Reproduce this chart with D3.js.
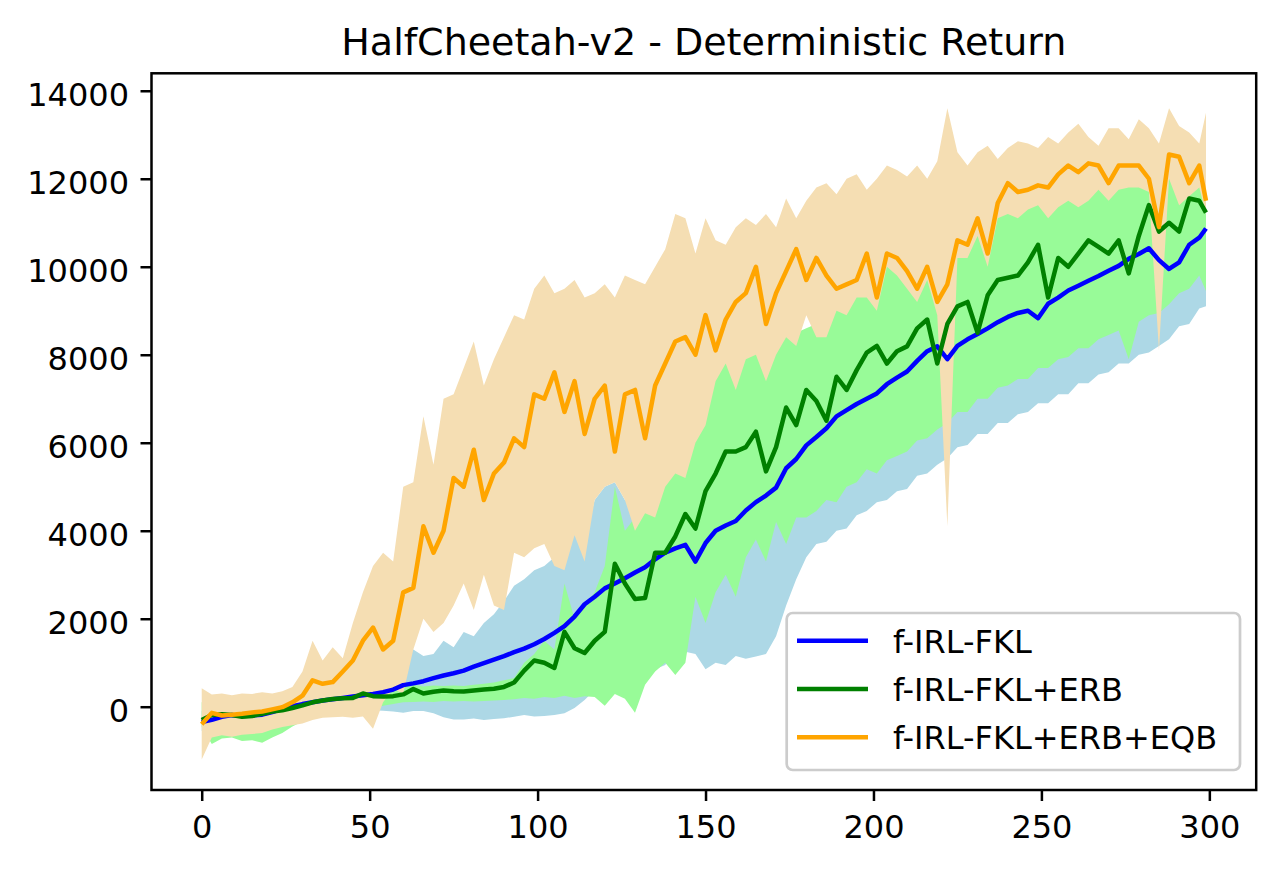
<!DOCTYPE html>
<html>
<head>
<meta charset="utf-8">
<title>HalfCheetah-v2 - Deterministic Return</title>
<script src="https://d3js.org/d3.v7.min.js"></script>
<style>
  html, body { margin: 0; padding: 0; background: #fff; }
  svg { display: block; font-family: "DejaVu Sans", sans-serif; }
</style>
</head>
<body>
<div id="chart"></div>
<script>
// HalfCheetah-v2 deterministic return, mean +/- band per method
// values every 3 iterations (plus the last one)

const steps = d3.range(0, 300, 3).concat([299]);

// f-IRL-FKL
const fklMean = [
  -350, -300, -230, -190, -210, -200, -180, -120, -50, 10,
  60, 100, 140, 170, 200, 230, 260, 290, 330, 390,
  490, 530, 580, 650, 710, 760, 820, 910, 990, 1070,
  1150, 1240, 1320, 1420, 1540, 1680, 1830, 2050, 2330, 2500,
  2690, 2800, 2920, 3050, 3170, 3350, 3500, 3600, 3680, 3300,
  3720, 4000, 4120, 4220, 4460, 4650, 4800, 4980, 5420, 5630,
  5940, 6130, 6330, 6600, 6740, 6880, 7000, 7120, 7330, 7480,
  7620, 7860, 8080, 8190, 7900, 8200, 8350, 8470, 8600, 8740,
  8860, 8950, 9000, 8830, 9160, 9300, 9460, 9570, 9680, 9790,
  9910, 10020, 10180, 10290, 10420, 10150, 9950, 10100, 10500, 10660,
  10870
];
const fklHigh = [
  -100, 0, 50, 20, 0, 30, 60, 100, 130, 170,
  200, 220, 230, 250, 270, 280, 300, 320, 380, 550,
  900, 1300, 1150, 1200, 1500, 1350, 1700, 1600, 1900, 2100,
  2400, 2750, 2900, 3100, 3200, 3400, 3650, 3950, 3800, 4700,
  5000, 5100, 4700, 4600, 4700, 4900, 5100, 5300, 5400, 5000,
  5500, 5700, 5900, 6000, 6200, 6400, 6500, 6700, 7000, 7200,
  7500, 7700, 7900, 8100, 8200, 8300, 8500, 8600, 8800, 8900,
  9000, 9200, 9400, 9500, 9300, 9600, 9700, 9800, 9900, 10000,
  10100, 10200, 10300, 10200, 10400, 10500, 10600, 10700, 10800, 10900,
  10900, 11000, 11100, 11200, 11300, 11200, 10900, 10850, 11300, 11450,
  11600
];
const fklLow = [
  -550, -620, -600, -580, -560, -600, -540, -480, -400, -300,
  -200, -150, -100, -90, -80, -80, -70, -80, -90, -110,
  -140, -100, -100, -150, -240, -290, -290, -270, -300, -280,
  -260, -230, -190, -220, -210, -190, -150, -30, 150, 380,
  580, 620, 660, 730, 770, 850, 950, 1300, 1250, 1200,
  850, 1000, 950, 1150, 1090, 1140, 1200, 1600, 2300, 2900,
  3400, 3700, 3750, 4000, 4050, 4350, 4450, 4650, 4700, 4900,
  4950, 5250, 5300, 5500, 5650, 5900, 5950, 6200, 6200, 6450,
  6450, 6650, 6700, 6900, 6900, 7100, 7100, 7350, 7350, 7550,
  7600, 7800, 7800, 8000, 8050, 8200, 8350, 8650, 8700, 9050,
  9100
];

// f-IRL-FKL+ERB
const erbMean = [
  -300, -190, -170, -190, -230, -210, -160, -110, -80, -30,
  30, 100, 140, 175, 190, 200, 300, 240, 235, 240,
  280, 400, 300, 340, 370, 350, 345, 370, 390, 410,
  450, 550, 820, 1050, 1000, 880, 1700, 1330, 1220, 1500,
  1700, 3250, 2800, 2450, 2470, 3500, 3500, 3870, 4380, 4050,
  4900, 5300, 5800, 5800, 5900, 6250, 5350, 5900, 6800, 6400,
  7200, 6950, 6500, 7500, 7200, 7650, 8050, 8200, 7800, 8080,
  8190, 8600, 8800, 7800, 8700, 9100, 9200, 8500, 9350, 9700,
  9750, 9800, 10100, 10500, 9300, 10200, 10000, 10300, 10600, 10450,
  10300, 10600, 9850, 10700, 11400, 10800, 11000, 10800, 11550, 11500,
  11230
];
const erbHigh = [
  100, 150, 180, 150, 120, 150, 170, 180, 200, 230,
  240, 250, 260, 280, 320, 400, 480, 500, 450, 420,
  450, 500, 460, 480, 470, 480, 470, 500, 520, 550,
  600, 650, 1000, 1200, 1500, 1300, 2800, 2000, 2300, 2600,
  3200, 5000, 4000, 4300, 4700, 4600, 5300, 5600, 5500, 6300,
  6700, 7700, 8100, 7500, 8200, 8300, 7700, 8300, 8700, 8500,
  8600, 8700, 8700, 9300, 9200, 9600, 9600, 9300, 10300, 10100,
  9800, 9500, 10000, 9200, 10000, 10500, 10500, 11000, 10300, 11400,
  11500, 11400, 11600, 11700, 11400, 11650, 11800, 11650, 11800, 12050,
  11800, 12050, 12100, 12100, 12000, 12100, 12300, 11700, 11900, 12100,
  11500
];
const erbLow = [
  -460, -850, -720, -700, -780, -760, -820, -700, -600, -450,
  -330, -260, -230, -170, -140, -100, -60, -30, 20, 60,
  100, 110, 120, 110, 130, 120, 130, 120, 130, 140,
  150, 170, 200, 180, 220, 200, 250, 200, 240, 220,
  20, 290, 180, -140, 500, 800, 1000, 720, 1000, 2500,
  1900, 2600, 3000, 2500, 3400, 3800, 3300, 4200, 3700, 4300,
  4300, 4450, 4700, 4650, 5000, 5100, 5400, 5300, 5600, 5700,
  5800, 6050, 6100, 6300, 6450, 6700, 6700, 7000, 7000, 7250,
  7300, 7450, 7450, 7700, 7700, 7900, 7950, 8150, 8150, 8350,
  8450, 8550, 7900, 8750, 8900, 8950, 9150, 9400, 9500, 9800,
  9450
];

// f-IRL-FKL+ERB+EQB
const eqbMean = [
  -400, -140, -200, -180, -160, -130, -110, -60, -10, 100,
  250, 600, 520, 560, 800, 1050, 1500, 1800, 1300, 1500,
  2600, 2700, 4100, 3500, 4000, 5200, 5000, 5840, 4700, 5300,
  5550, 6100, 5900, 7100, 7000, 7600, 6700, 7400, 6200, 7000,
  7300, 5800, 7100, 7200, 6100, 7300, 7800, 8300, 8400, 8000,
  8900, 8100, 8800, 9200, 9400, 10000, 8700, 9400, 9900, 10400,
  9700, 10200, 9800, 9500, 9600, 9700, 10300, 9300, 10300, 10200,
  9900, 9500, 10000, 9200, 9600, 10600, 10500, 11100, 10300, 11450,
  11900, 11700, 11750, 11850, 11800, 12100, 12300, 12150, 12350, 12300,
  11900, 12300, 12300, 12300, 12000, 10900, 12550, 12500, 11900, 12300,
  11500
];
const eqbHigh = [
  420, 280, 300, 260, 300, 290, 330, 300, 350, 450,
  800, 1500, 1050, 1350, 1100, 1900, 2600, 3200, 3500, 3300,
  5000, 5100, 6600, 5500, 7000, 7100, 7700, 8300, 7300, 7900,
  8400, 8900, 8800, 9500, 9800, 9400, 9500, 9700, 9300, 9400,
  9600, 9300, 9800, 9700, 9600, 10000, 10400, 11200, 11100, 10300,
  11100, 10600, 10500, 10900, 11100, 10950, 11200, 10900, 11550, 11100,
  11500, 11800, 11900, 11650, 12000, 12100, 11750, 12000, 12300, 12200,
  12050, 12300, 12000, 12400, 13600, 12600, 12300, 12600, 12750, 12450,
  12700, 12850, 12800, 12700, 12950, 12800, 13050, 13250, 12950, 12750,
  13150, 13150, 12900, 13350, 13150, 12800, 13600, 13200, 13050, 12800,
  13500
];
const eqbLow = [
  -1200, -700, -650, -680, -640, -620, -600, -520, -460, -420,
  -380, -300, -250, -240, -230, -250, -220, -500, 100, 400,
  300, 1300, 2000, 1700, 1900, 2300, 2800, 2200, 3000, 2300,
  2200, 3500, 3400, 3600, 3700, 3200, 3100, 3900, 3300, 4700,
  5000, 5100, 4700, 4000, 4400, 4300, 5000, 5300, 5200, 6000,
  6400, 7400, 7800, 7200, 7900, 8000, 7400, 8000, 8400, 8200,
  8900, 8400, 8400, 9000, 8900, 9300, 9300, 9000, 10000, 9800,
  9500, 9200, 9700, 8900, 4100, 10200, 10200, 10700, 10000, 11100,
  11200, 11100, 11300, 11400, 11100, 11350, 11500, 11350, 11500, 11750,
  11500, 11750, 11800, 11800, 11700, 8100, 12000, 11400, 11600, 11800,
  11200
];

const seriesNames = ['f-IRL-FKL', 'f-IRL-FKL+ERB', 'f-IRL-FKL+ERB+EQB'];
const xTicks = [0, 50, 100, 150, 200, 250, 300];
const yTicks = [0, 2000, 4000, 6000, 8000, 10000, 12000, 14000];

const width = 1280, height = 870;
const plot = { left: 151.5, right: 1256.2, top: 73.3, bottom: 790 };

const series = [
    { name: seriesNames[0], mean: fklMean, low: fklLow, high: fklHigh, line: '#0000ff', band: '#add8e6' },
    { name: seriesNames[1], mean: erbMean, low: erbLow, high: erbHigh, line: '#008000', band: '#98fb98' },
    { name: seriesNames[2], mean: eqbMean, low: eqbLow, high: eqbHigh, line: '#ffa500', band: '#f5deb3' }
];

const x = d3.scaleLinear().domain([-14.95, 313.95]).range([plot.left, plot.right]);
const y = d3.scaleLinear().domain([-1893, 14397]).range([plot.bottom, plot.top]);

const svg = d3.select('#chart')
    .append('svg')
    .attr('width', width)
    .attr('height', height);

svg.append('defs').append('clipPath')
    .attr('id', 'plot-clip')
    .append('rect')
    .attr('x', plot.left)
    .attr('y', plot.top)
    .attr('width', plot.right - plot.left)
    .attr('height', plot.bottom - plot.top);

const area = s => d3.area()
    .x((d, i) => x(steps[i]))
    .y0((d, i) => y(s.low[i]))
    .y1((d, i) => y(s.high[i]))(s.mean);

const line = s => d3.line()
    .x((d, i) => x(steps[i]))
    .y(d => y(d))(s.mean);

const data = svg.append('g').attr('clip-path', 'url(#plot-clip)');

// bands are opaque, drawn in series order, then all mean lines on top
series.forEach(s => {
    data.append('path')
        .attr('d', area(s))
        .attr('fill', s.band)
        .attr('stroke', 'none');
});

series.forEach(s => {
    data.append('path')
        .attr('d', line(s))
        .attr('fill', 'none')
        .attr('stroke', s.line)
        .attr('stroke-width', 4.5)
        .attr('stroke-linejoin', 'round');
});

// axes
const styleAxis = g => {
    g.select('.domain').remove();
    g.selectAll('.tick line').attr('stroke', '#000').attr('stroke-width', 2.5);
    g.selectAll('.tick text').attr('fill', '#000').attr('font-size', '32px')
        .attr('font-family', '"DejaVu Sans", sans-serif');
};

svg.append('g')
    .attr('transform', `translate(0,${plot.bottom})`)
    .call(d3.axisBottom(x).tickValues(xTicks).tickSize(11).tickPadding(14).tickFormat(d3.format('d')))
    .call(styleAxis);

svg.append('g')
    .attr('transform', `translate(${plot.left},0)`)
    .call(d3.axisLeft(y).tickValues(yTicks).tickSize(11).tickPadding(11.5).tickFormat(d3.format('d')))
    .call(styleAxis)
    .call(g => g.selectAll('.tick text').attr('dy', '0.45em'));

// spines
svg.append('rect')
    .attr('x', plot.left)
    .attr('y', plot.top)
    .attr('width', plot.right - plot.left)
    .attr('height', plot.bottom - plot.top)
    .attr('fill', 'none')
    .attr('stroke', '#000')
    .attr('stroke-width', 2.5);

// title
svg.append('text')
    .attr('x', (plot.left + plot.right) / 2)
    .attr('y', 54.7)
    .attr('text-anchor', 'middle')
    .attr('font-size', '38px')
    .attr('fill', '#000')
    .text('HalfCheetah-v2 - Deterministic Return');

// legend
const legend = svg.append('g');
legend.append('rect')
    .attr('x', 786.7)
    .attr('y', 613)
    .attr('width', 453.3)
    .attr('height', 157)
    .attr('rx', 6)
    .attr('fill', '#fff')
    .attr('fill-opacity', 0.8)
    .attr('stroke', '#cccccc')
    .attr('stroke-width', 2.7);

series.forEach((s, i) => {
    const ly = 640.7 + i * 48.3;
    legend.append('line')
        .attr('x1', 797).attr('x2', 868)
        .attr('y1', ly).attr('y2', ly)
        .attr('stroke', s.line)
        .attr('stroke-width', 4.5);
    legend.append('text')
        .attr('x', 893)
        .attr('y', ly + 12)
        .attr('font-size', '32px')
        .attr('fill', '#000')
        .text(s.name);
});
</script>
</body>
</html>
